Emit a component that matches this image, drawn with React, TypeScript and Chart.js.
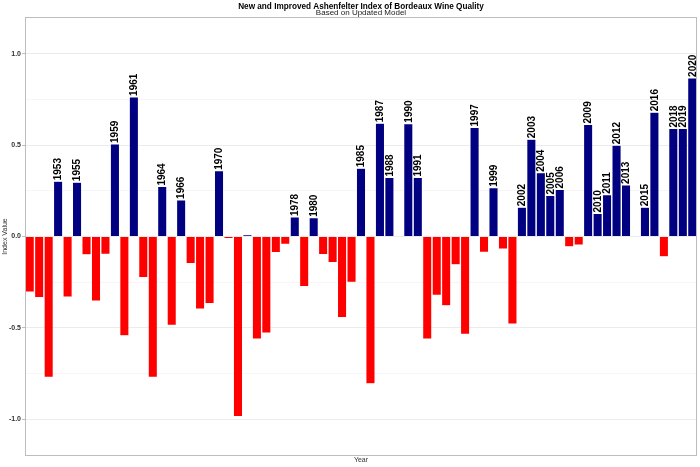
import { useEffect, useRef } from "react";
import { Chart, registerables, Plugin } from "chart.js";

Chart.register(...registerables);

// Vintages 1950 - 2020
const years = [
  1950, 1951, 1952, 1953, 1954, 1955, 1956, 1957, 1958, 1959,
  1960, 1961, 1962, 1963, 1964, 1965, 1966, 1967, 1968, 1969,
  1970, 1971, 1972, 1973, 1974, 1975, 1976, 1977, 1978, 1979,
  1980, 1981, 1982, 1983, 1984, 1985, 1986, 1987, 1988, 1989,
  1990, 1991, 1992, 1993, 1994, 1995, 1996, 1997, 1998, 1999,
  2000, 2001, 2002, 2003, 2004, 2005, 2006, 2007, 2008, 2009,
  2010, 2011, 2012, 2013, 2014, 2015, 2016, 2017, 2018, 2019,
  2020,
];

const indexValues = [
  -0.304, -0.333, -0.769, 0.302, -0.331, 0.297, -0.1, -0.352, -0.097, 0.506,
  -0.543, 0.763, -0.224, -0.77, 0.273, -0.485, 0.2, -0.148, -0.397, -0.366,
  0.359, -0.011, -0.984, 0.01, -0.561, -0.528, -0.087, -0.042, 0.106, -0.273,
  0.102, -0.098, -0.142, -0.443, -0.25, 0.373, -0.805, 0.619, 0.322, -0.002,
  0.617, 0.322, -0.561, -0.321, -0.379, -0.155, -0.534, 0.596, -0.086, 0.266,
  -0.069, -0.479, 0.16, 0.532, 0.348, 0.224, 0.257, -0.056, -0.047, 0.612,
  0.126, 0.228, 0.499, 0.282, 0.004, 0.16, 0.679, -0.111, 0.59, 0.59,
  0.867,
];

const yTickLabels = [-1.0, -0.5, 0.0, 0.5, 1.0];

const TITLE = "New and Improved Ashenfelter Index of Bordeaux Wine Quality";
const SUBTITLE = "Based on Updated Model";

const FONT = "'Liberation Sans', Arial, Helvetica, sans-serif";

const isMajor = (v: number) => yTickLabels.some((t) => Math.abs(t - v) < 1e-6);

// year labels on top of the good vintages
const yearLabels: Plugin<"bar"> = {
  id: "yearLabels",
  afterDatasetsDraw(chart) {
    const ctx = chart.ctx;
    const meta = chart.getDatasetMeta(0);
    ctx.save();
    ctx.font = `bold 10px ${FONT}`;
    ctx.fillStyle = "#000";
    ctx.textAlign = "left";
    ctx.textBaseline = "middle";
    meta.data.forEach((bar: any, i) => {
      if (indexValues[i] <= 0.05) return;
      ctx.save();
      ctx.translate(bar.x + 0.5, bar.y - 1);
      ctx.rotate(-Math.PI / 2);
      ctx.fillText(String(years[i]), 0, 0);
      ctx.restore();
    });
    ctx.restore();
  },
};

// panel frame + titles centred over the plot panel (ggplot style)
const panelDecor: Plugin<"bar"> = {
  id: "panelDecor",
  afterDraw(chart) {
    const { ctx, chartArea } = chart;
    ctx.save();
    ctx.strokeStyle = "#bdbdbd";
    ctx.lineWidth = 1;
    ctx.strokeRect(
      chartArea.left + 0.5,
      chartArea.top + 0.5,
      chartArea.right - chartArea.left - 1,
      chartArea.bottom - chartArea.top - 1
    );
    const cx = (chartArea.left + chartArea.right) / 2;
    ctx.textAlign = "center";
    ctx.textBaseline = "alphabetic";
    ctx.fillStyle = "#000";
    ctx.font = `bold 8.2px ${FONT}`;
    ctx.fillText(TITLE, cx, 8.5);
    ctx.fillStyle = "#1a1a1a";
    ctx.font = `8px ${FONT}`;
    ctx.fillText(SUBTITLE, cx, 14.5);
    ctx.restore();
  },
};

export default function App() {
  const canvasRef = useRef<HTMLCanvasElement>(null);
  const chartRef = useRef<Chart | null>(null);

  useEffect(() => {
    document.body.style.margin = "0";
    if (!canvasRef.current) return;
    chartRef.current?.destroy();
    chartRef.current = new Chart(canvasRef.current, {
      type: "bar",
      data: {
        labels: years.map(String),
        datasets: [
          {
            data: indexValues,
            backgroundColor: indexValues.map((v) => (v > 0 ? "#000080" : "#FF0000")),
            borderColor: "rgba(255,255,255,0.4)",
            borderWidth: 0.5,
            barPercentage: 0.96,
            categoryPercentage: 1,
          },
        ],
      },
      options: {
        animation: false,
        responsive: true,
        maintainAspectRatio: false,
        layout: { padding: { right: 3, top: 17, bottom: 0, left: 0 } },
        plugins: {
          legend: { display: false },
          tooltip: { enabled: false },
          title: { display: false },
        },
        scales: {
          x: {
            grid: { display: false, drawTicks: false },
            border: { display: false },
            ticks: { display: false },
            title: {
              display: true,
              text: "Year",
              color: "#333",
              font: { family: FONT, size: 7, lineHeight: 1 },
              padding: { top: 1, bottom: 3 },
            },
          },
          y: {
            min: -1.2,
            max: 1.2,
            afterFit: (scale) => {
              scale.width = 25;
            },
            border: { display: false },
            grid: {
              color: (c) => (isMajor(c.tick.value) ? "#ececec" : "#f6f6f6"),
              tickColor: (c) => (isMajor(c.tick.value) ? "#bdbdbd" : "rgba(0,0,0,0)"),
              drawTicks: true,
              tickLength: 3,
            },
            ticks: {
              stepSize: 0.25,
              includeBounds: false,
              padding: 1,
              color: "#333",
              font: { family: FONT, size: 7, weight: "bold" },
              callback: (v) => {
                const n = Number(v);
                return isMajor(n) ? n.toFixed(1) : "";
              },
            },
            title: {
              display: true,
              text: "Index Value",
              color: "#333",
              font: { family: FONT, size: 7, lineHeight: 1 },
              padding: { top: 2, bottom: 0 },
            },
          },
        },
      },
      plugins: [yearLabels, panelDecor],
    });
    return () => {
      chartRef.current?.destroy();
      chartRef.current = null;
    };
  }, []);

  return (
    <div style={{ width: 700, height: 467, position: "relative", background: "#fff" }}>
      <canvas ref={canvasRef}></canvas>
    </div>
  );
}
